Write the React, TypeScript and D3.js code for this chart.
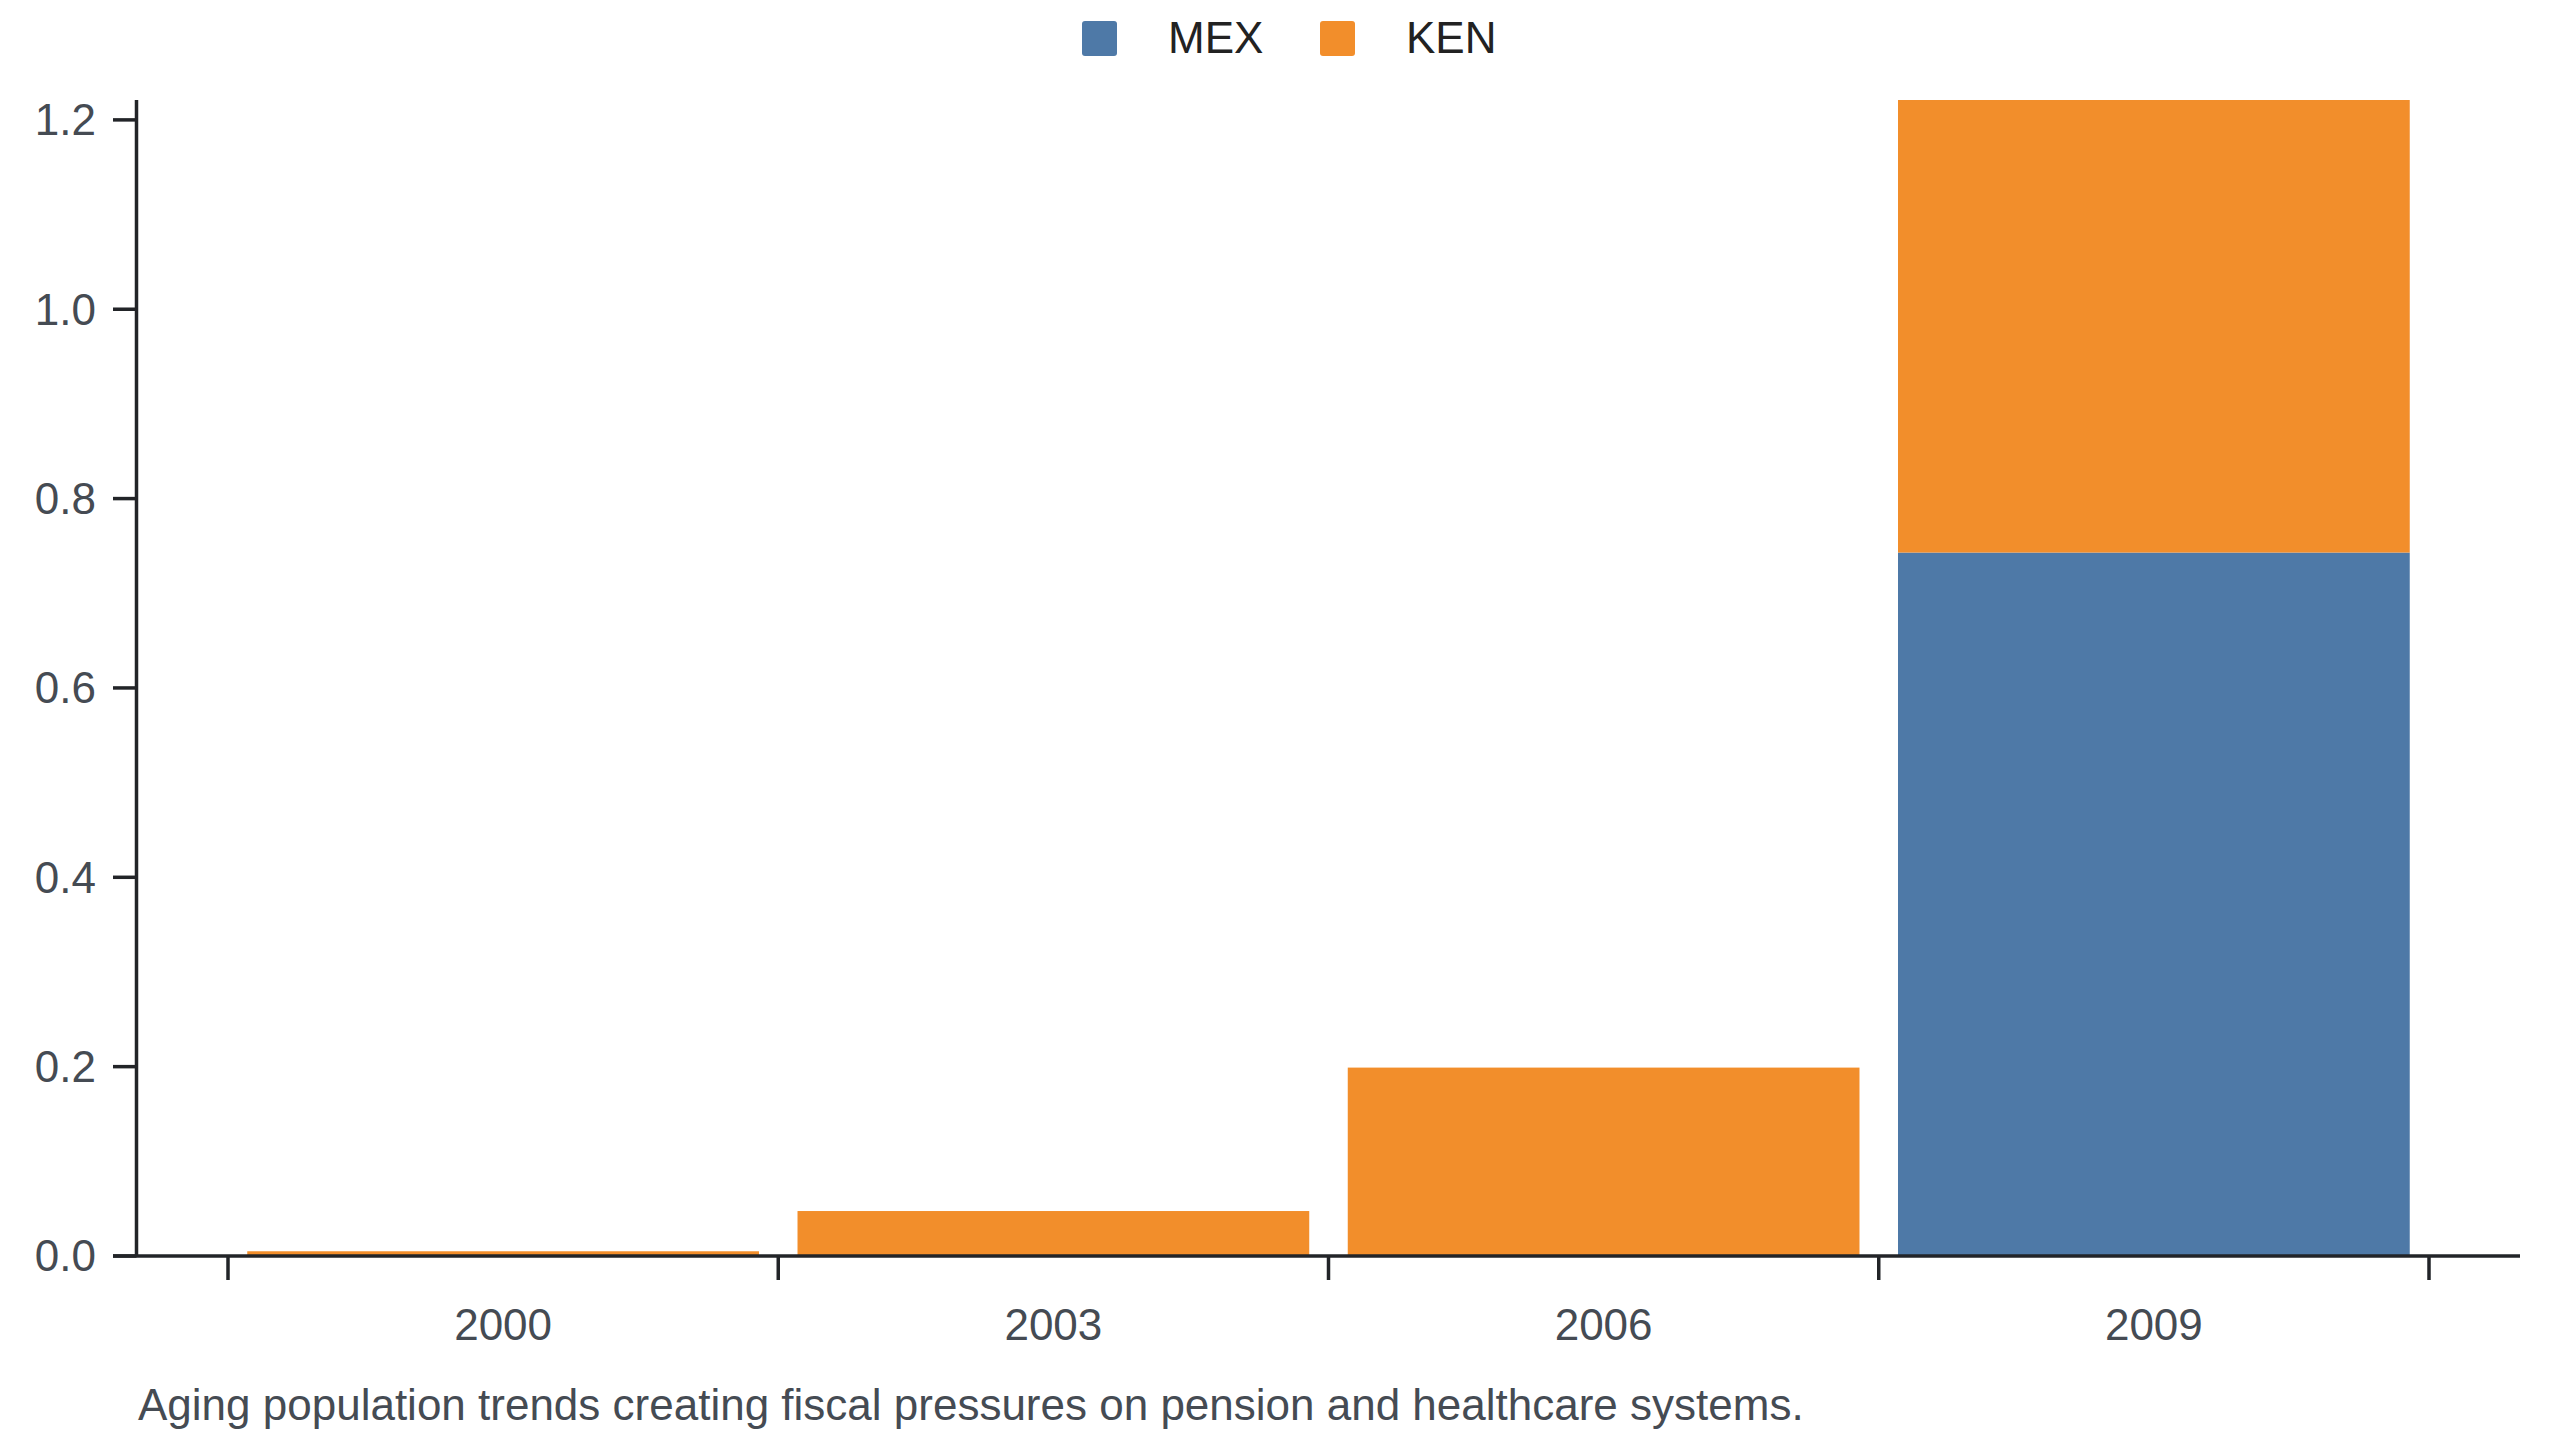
import React from "react";
import * as d3 from "d3";

const years = ["2000", "2003", "2006", "2009"];
const seriesNames = ["MEX", "KEN"];
const mexValues = [0, 0, 0, 0.743];
const kenValues = [0.005, 0.0475, 0.199, 0.478];
const colors = ["#4e79a7", "#f28e2b"];
const yTicks = [0, 0.2, 0.4, 0.6, 0.8, 1.0, 1.2];
const caption = "Aging population trends creating fiscal pressures on pension and healthcare systems.";

const W = 2560;
const H = 1440;
const FONT = "'Liberation Sans', Arial, Helvetica, sans-serif";

export default function App() {
  const rows = years.map((y, i) => ({ year: y, MEX: mexValues[i], KEN: kenValues[i] }));
  const stacked = d3.stack<any>().keys(seriesNames)(rows);
  const maxTotal = d3.max(rows, (r) => r.MEX + r.KEN) as number;

  const x = d3.scaleBand<string>().domain(years).range([228, 2429]).paddingInner(0.07).paddingOuter(0.035);
  const y = d3.scaleLinear().domain([0, maxTotal]).range([1256, 100]);
  const step = x.step();
  const rangeStart = x.range()[0];
  const tickXs = d3.range(years.length + 1).map((i) => rangeStart + i * step);

  const axisColor = "#222428";
  const labelColor = "#454b53";

  return (
    <svg width={W} height={H} style={{ position: "absolute", left: 0, top: 0, background: "#fff" }} fontFamily={FONT}>
      {/* bars */}
      {stacked.map((s, si) => (
        <g key={s.key} fill={colors[si]}>
          {s.map((d, i) => {
            const h = y(d[0]) - y(d[1]);
            if (h <= 0) return null;
            return <rect key={i} x={x(years[i])} y={y(d[1])} width={x.bandwidth()} height={h} />;
          })}
        </g>
      ))}

      {/* y axis */}
      <line x1={136.5} x2={136.5} y1={y(maxTotal)} y2={y(0)} stroke={axisColor} strokeWidth={3.5} />
      {yTicks.map((t) => (
        <g key={t}>
          <line x1={113} x2={136.5} y1={y(t)} y2={y(t)} stroke={axisColor} strokeWidth={3.5} />
          <text x={96} y={y(t)} dy="0.35em" textAnchor="end" fontSize={44} fill={labelColor}>
            {d3.format(".1f")(t)}
          </text>
        </g>
      ))}

      {/* x axis */}
      <line x1={113} x2={2520} y1={y(0)} y2={y(0)} stroke={axisColor} strokeWidth={3.5} />
      {tickXs.map((tx, i) => (
        <line key={i} x1={tx} x2={tx} y1={y(0)} y2={y(0) + 24} stroke={axisColor} strokeWidth={3.5} />
      ))}
      {years.map((yr) => (
        <text key={yr} x={(x(yr) as number) + x.bandwidth() / 2} y={1340} textAnchor="middle" fontSize={44} fill={labelColor}>
          {yr}
        </text>
      ))}

      {/* legend */}
      <g>
        <rect x={1082} y={21} width={35} height={35} rx={3} fill={colors[0]} />
        <text x={1168} y={53} fontSize={44} fill="#222">{seriesNames[0]}</text>
        <rect x={1320} y={21} width={35} height={35} rx={3} fill={colors[1]} />
        <text x={1406} y={53} fontSize={44} fill="#222">{seriesNames[1]}</text>
      </g>

      {/* caption */}
      <text x={138} y={1420} fontSize={44} fill={labelColor}>{caption}</text>
    </svg>
  );
}
